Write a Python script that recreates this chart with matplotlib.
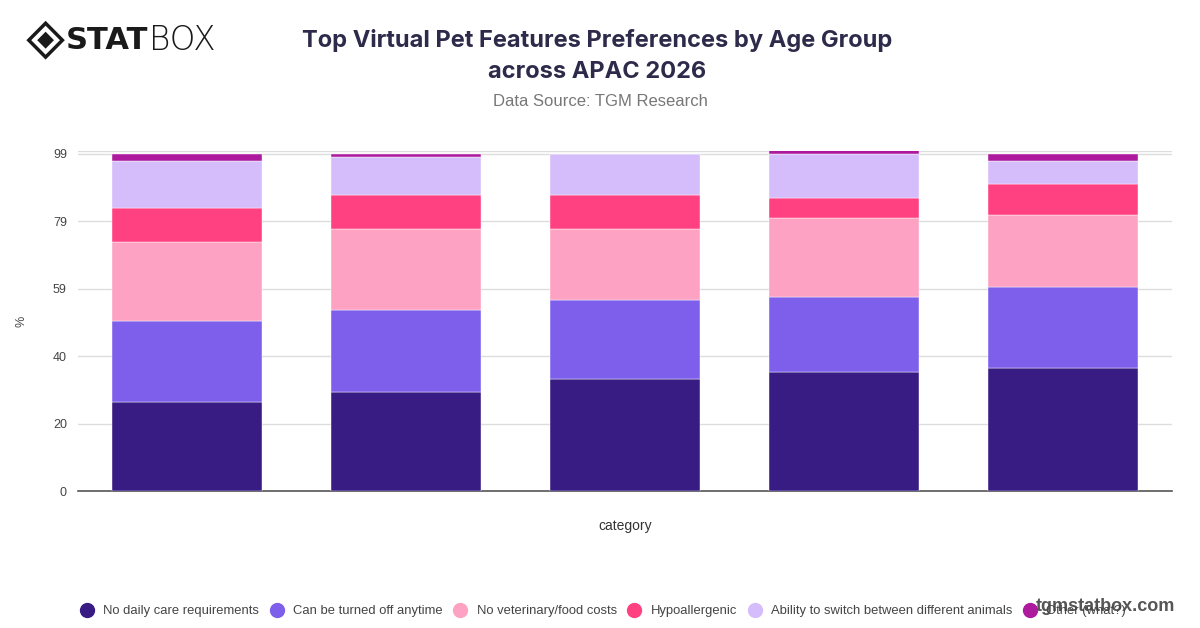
import matplotlib
matplotlib.use("Agg")
import matplotlib.pyplot as plt
import numpy as np
from matplotlib.patches import Polygon
from matplotlib.lines import Line2D

plt.rcParams['font.family'] = ['Liberation Sans', 'DejaVu Sans']

# data (share of respondents, %)
categories = ["18-24", "25-34", "35-44", "45-54", "55+"]
series_names = [
    "No daily care requirements",
    "Can be turned off anytime",
    "No veterinary/food costs",
    "Hypoallergenic",
    "Ability to switch between different animals",
    "Other (what?)",
]
no_daily_care = [26, 29, 33, 35, 36]
turn_off = [24, 24, 23, 22, 24]
no_vet_costs = [23, 24, 21, 23, 21]
hypoallergenic = [10, 10, 10, 6, 9]
switch_animals = [14, 11, 12, 13, 7]
other = [2, 1, 0, 1, 2]
ytick_values = [0, 19.8, 39.6, 59.4, 79.2, 99]
ytick_labels = ["0", "20", "40", "59", "79", "99"]

colors = ["#381c84", "#7d5fec", "#fda2c2", "#ff4182", "#d5bdfb", "#ad1a9d"]

fig = plt.figure(figsize=(12, 6.28), dpi=100)
ax = fig.add_axes([0.065, 0.218, 0.912, 0.541])

x = np.arange(len(categories))
bottom = np.zeros(len(categories))
for name, vals, col in zip(series_names,
                           [no_daily_care, turn_off, no_vet_costs,
                            hypoallergenic, switch_animals, other], colors):
    ax.bar(x, vals, width=0.685, bottom=bottom, color=col, label=name,
           edgecolor="white", linewidth=0.3, zorder=3)
    bottom += np.array(vals)

ax.set_xlim(-0.5, 4.5)
ax.set_ylim(0, 99.7)
ax.set_yticks(ytick_values)
ax.set_yticklabels(ytick_labels)
ax.set_xticks([])
ax.tick_params(axis="y", length=0, labelsize=9, colors="#444444", pad=8)
ax.grid(axis="y", color="#dddddd", linewidth=1, zorder=0)
ax.axhline(99.7, color="#dddddd", linewidth=1, zorder=0)
for s in ["top", "right", "left"]:
    ax.spines[s].set_visible(False)
ax.spines["bottom"].set_color("#555555")
ax.spines["bottom"].set_linewidth(1.2)
ax.set_xlabel("category", fontsize=10, color="#333333", labelpad=20)
ax.set_ylabel("%", fontsize=9, color="#444444", labelpad=18)

# title block
fig.text(0.498, 0.936, "Top Virtual Pet Features Preferences by Age Group",
         ha="center", va="center", fontsize=17, fontweight="bold",
         color="#2d2a4a", family=["Inter", "DejaVu Sans"])
fig.text(0.498, 0.886, "across APAC 2026",
         ha="center", va="center", fontsize=17, fontweight="bold",
         color="#2d2a4a", family=["Inter", "DejaVu Sans"])
fig.text(0.5, 0.838, "Data Source: TGM Research", ha="center", va="center",
         fontsize=12, color="#777777")

# logo
cx, cy = 0.038, 0.936
dx, dy = 0.014, 0.027
fig.patches.append(Polygon([[cx - dx, cy], [cx, cy + dy], [cx + dx, cy], [cx, cy - dy]],
                           closed=True, transform=fig.transFigure,
                           facecolor="none", edgecolor="#1a1a1a", linewidth=2.5))
fig.patches.append(Polygon([[cx - dx * 0.5, cy], [cx, cy + dy * 0.5],
                            [cx + dx * 0.5, cy], [cx, cy - dy * 0.5]],
                           closed=True, transform=fig.transFigure,
                           facecolor="#1a1a1a", edgecolor="none"))
fig.text(0.055, 0.936, "STAT", ha="left", va="center", fontsize=22,
         fontweight="heavy", color="#1a1a1a", family=["DejaVu Sans"])
fig.text(0.124, 0.936, "BOX", ha="left", va="center", fontsize=23.5,
         fontweight="light", color="#1a1a1a", family=["DejaVu Sans"])

# legend
labels = series_names
marker_handles = [Line2D([0], [0], marker="o", linestyle="", markersize=10,
                         markerfacecolor=c, markeredgecolor=c) for c in colors]
fig.legend(marker_handles, labels, loc="center", bbox_to_anchor=(0.5, 0.027),
           ncol=6, frameon=False, fontsize=9.4, handletextpad=0.25,
           columnspacing=0.35, labelcolor="#444444")

fig.text(0.979, 0.035, "tgmstatbox.com", ha="right", va="center",
         fontsize=13, fontweight="bold", color="#555555")

plt.savefig("out.png", dpi=100)
